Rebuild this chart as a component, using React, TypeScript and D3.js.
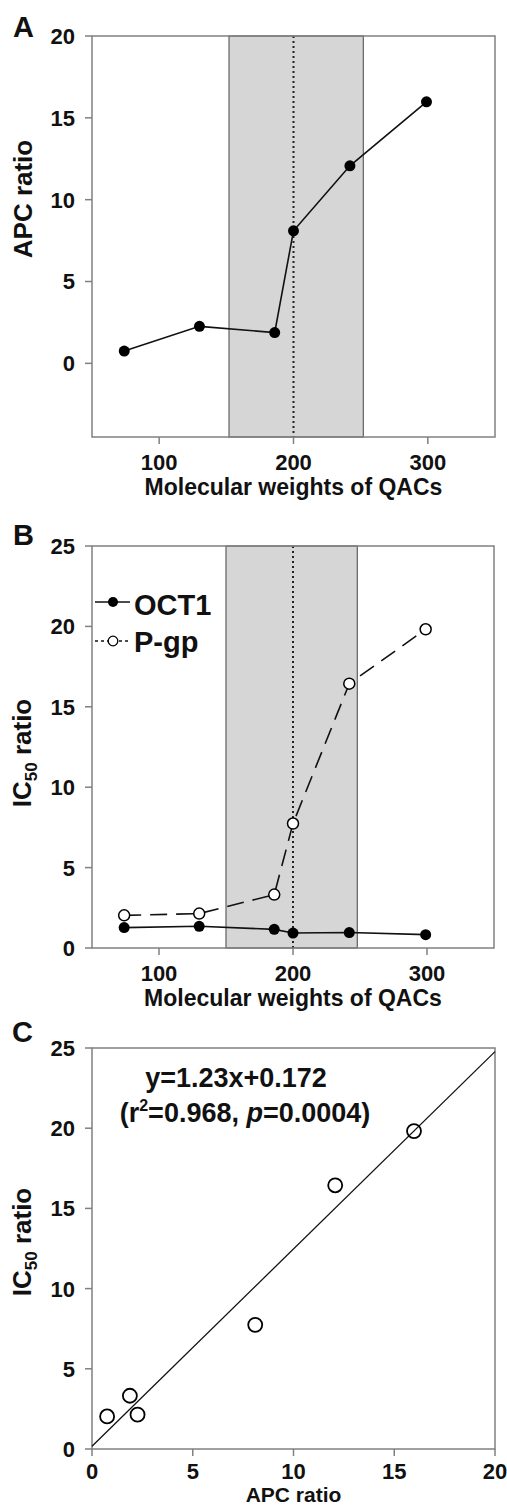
import React from "react";
import * as d3 from "d3";

// ---- data ----
const molecularWeights = [74, 130, 186, 200, 242, 299];
const apcRatio = [0.75, 2.26, 1.88, 8.1, 12.07, 15.98];
const oct1IC50Ratio = [1.27, 1.35, 1.16, 0.93, 0.96, 0.83];
const pgpIC50Ratio = [2.03, 2.14, 3.32, 7.74, 16.44, 19.82];

const mwTicks = [100, 200, 300];
const yTicksA = [0, 5, 10, 15, 20];
const yTicksB = [0, 5, 10, 15, 20, 25];
const xTicksC = [0, 5, 10, 15, 20];
const yTicksC = [0, 5, 10, 15, 20, 25];

const shadeRangeA = [152, 252];
const shadeRangeB = [150, 248];
const cutoffMW = 200;

const regSlope = 1.23;
const regIntercept = 0.172;
const regXRange = [0, 20];

const FONT = "'Liberation Sans', Arial, Helvetica, sans-serif";
const FRAME = "#808080";

type Panel = {
  left: number; right: number; top: number; bottom: number;
  xDomain: [number, number]; yDomain: [number, number];
};

const PA: Panel = { left: 92, right: 495, top: 36, bottom: 437, xDomain: [50, 350], yDomain: [-4.5, 20] };
const PB: Panel = { left: 92, right: 494, top: 546, bottom: 948, xDomain: [50, 350], yDomain: [0, 25] };
const PC: Panel = { left: 92, right: 495, top: 1048, bottom: 1449, xDomain: [0, 20], yDomain: [0, 25] };

function scales(p: Panel) {
  const x = d3.scaleLinear().domain(p.xDomain).range([p.left, p.right]);
  const y = d3.scaleLinear().domain(p.yDomain).range([p.bottom, p.top]);
  return { x, y };
}

function Axes({ p, xTicks, yTicks, labelOffset = 33 }: { p: Panel; xTicks: number[]; yTicks: number[]; labelOffset?: number }) {
  const { x, y } = scales(p);
  return (
    <g>
      <rect x={p.left} y={p.top} width={p.right - p.left} height={p.bottom - p.top}
        fill="none" stroke={FRAME} strokeWidth={1.5} />
      {yTicks.map((t) => (
        <g key={"y" + t}>
          <line x1={p.left - 7} x2={p.left} y1={y(t)} y2={y(t)} stroke={FRAME} strokeWidth={1.5} />
          <text x={p.left - 17} y={y(t)} dy="0.36em" textAnchor="end"
            fontFamily={FONT} fontWeight="bold" fontSize={22} fill="#111">{t}</text>
        </g>
      ))}
      {xTicks.map((t) => (
        <g key={"x" + t}>
          <line x1={x(t)} x2={x(t)} y1={p.bottom} y2={p.bottom + 7} stroke={FRAME} strokeWidth={1.5} />
          <text x={x(t)} y={p.bottom + labelOffset} textAnchor="middle"
            fontFamily={FONT} fontWeight="bold" fontSize={22} fill="#111">{t}</text>
        </g>
      ))}
    </g>
  );
}

function Shade({ p, range }: { p: Panel; range: number[] }) {
  const { x } = scales(p);
  return (
    <g>
      <rect x={x(range[0])} y={p.top} width={x(range[1]) - x(range[0])} height={p.bottom - p.top}
        fill="#d6d6d6" stroke="#6a6a6a" strokeWidth={1.3} />
      <line x1={x(cutoffMW)} x2={x(cutoffMW)} y1={p.top} y2={p.bottom}
        stroke="#222" strokeWidth={2} strokeDasharray="2,3" />
    </g>
  );
}

export default function App() {
  const a = scales(PA);
  const b = scales(PB);
  const c = scales(PC);

  const lineA = d3.line<number>().x((_, i) => a.x(molecularWeights[i])).y((v) => a.y(v));
  const lineB = d3.line<number>().x((_, i) => b.x(molecularWeights[i])).y((v) => b.y(v));
  const regLine = d3.line<number>().x((v) => c.x(v)).y((v) => c.y(regSlope * v + regIntercept));

  const titleStyle = { fontFamily: FONT, fontWeight: "bold" as const, fill: "#111" };

  return (
    <svg width={507} height={1506} style={{ position: "absolute", left: 0, top: 0, background: "#fff" }}>
      <rect x={0} y={0} width={507} height={1506} fill="#fff" />

      {/* ---------- Panel A ---------- */}
      <Shade p={PA} range={shadeRangeA} />
      <Axes p={PA} xTicks={mwTicks} yTicks={yTicksA} />
      <path d={lineA(apcRatio) || ""} fill="none" stroke="#111" strokeWidth={1.6} />
      {apcRatio.map((v, i) => (
        <circle key={i} cx={a.x(molecularWeights[i])} cy={a.y(v)} r={5.5} fill="#000" />
      ))}
      <text x={13} y={37} fontSize={29} {...titleStyle}>A</text>
      <text transform={`translate(32,199) rotate(-90)`} textAnchor="middle" fontSize={26} {...titleStyle}>APC ratio</text>
      <text x={(PA.left + PA.right) / 2} y={PA.bottom + 58} textAnchor="middle" fontSize={23} {...titleStyle}>Molecular weights of QACs</text>

      {/* ---------- Panel B ---------- */}
      <Shade p={PB} range={shadeRangeB} />
      <Axes p={PB} xTicks={mwTicks} yTicks={yTicksB} />
      <path d={lineB(oct1IC50Ratio) || ""} fill="none" stroke="#111" strokeWidth={1.6} />
      <path d={lineB(pgpIC50Ratio) || ""} fill="none" stroke="#111" strokeWidth={1.6} strokeDasharray="17,9" />
      {oct1IC50Ratio.map((v, i) => (
        <circle key={"o" + i} cx={b.x(molecularWeights[i])} cy={b.y(v)} r={5.5} fill="#000" />
      ))}
      {pgpIC50Ratio.map((v, i) => (
        <circle key={"p" + i} cx={b.x(molecularWeights[i])} cy={b.y(v)} r={5.5} fill="#fff" stroke="#000" strokeWidth={1.5} />
      ))}
      {/* legend */}
      <line x1={95} x2={130} y1={602} y2={602} stroke="#111" strokeWidth={1.6} />
      <circle cx={113} cy={602} r={5} fill="#000" />
      <text x={134} y={615} fontSize={29} {...titleStyle}>OCT1</text>
      <line x1={95} x2={130} y1={641} y2={641} stroke="#111" strokeWidth={1.4} strokeDasharray="3,3" />
      <circle cx={113} cy={641} r={4.8} fill="#fff" stroke="#000" strokeWidth={1.3} />
      <text x={134} y={652} fontSize={29} {...titleStyle}>P-gp</text>

      <text x={13} y={545} fontSize={29} {...titleStyle}>B</text>
      <text transform={`translate(31,753) rotate(-90)`} textAnchor="middle" fontSize={26} {...titleStyle}>
        IC<tspan dy={6} fontSize={17}>50</tspan><tspan dy={-6}> ratio</tspan>
      </text>
      <text x={(PB.left + PB.right) / 2} y={PB.bottom + 58} textAnchor="middle" fontSize={23} {...titleStyle}>Molecular weights of QACs</text>

      {/* ---------- Panel C ---------- */}
      <Axes p={PC} xTicks={xTicksC} yTicks={yTicksC} labelOffset={30} />
      <path d={regLine(regXRange) || ""} fill="none" stroke="#111" strokeWidth={1.3} />
      {apcRatio.map((v, i) => (
        <circle key={"c" + i} cx={c.x(v)} cy={c.y(pgpIC50Ratio[i])} r={7} fill="none" stroke="#000" strokeWidth={1.8} />
      ))}
      <text x={236} y={1087} textAnchor="middle" fontSize={27} {...titleStyle}>y=1.23x+0.172</text>
      <text x={245} y={1122} textAnchor="middle" fontSize={27} {...titleStyle}>
        (r<tspan dy={-11} fontSize={16}>2</tspan><tspan dy={11}>=0.968, </tspan><tspan fontStyle="italic">p</tspan>=0.0004)
      </text>

      <text x={12} y={1042} fontSize={29} {...titleStyle}>C</text>
      <text transform={`translate(31,1242) rotate(-90)`} textAnchor="middle" fontSize={26} {...titleStyle}>
        IC<tspan dy={6} fontSize={17}>50</tspan><tspan dy={-6}> ratio</tspan>
      </text>
      <text x={(PC.left + PC.right) / 2} y={1502} textAnchor="middle" fontSize={21} {...titleStyle}>APC ratio</text>
    </svg>
  );
}
